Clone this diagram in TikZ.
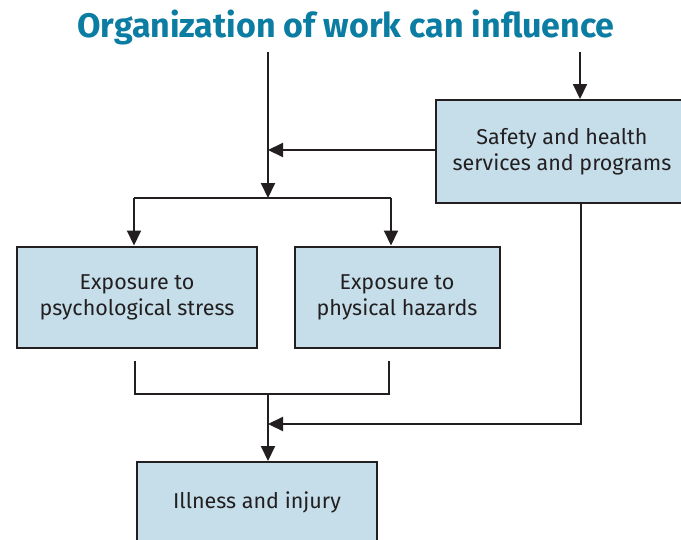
\documentclass[tikz,border=0pt]{standalone}
\usepackage{fontspec}
\setmainfont{Fira Sans}
\usetikzlibrary{arrows.meta}
\definecolor{boxfill}{HTML}{C5DEEA}
\definecolor{ink}{HTML}{231F20}
\definecolor{titleblue}{HTML}{0B7DA3}
\begin{document}
\begin{tikzpicture}[x=1pt,y=-1pt,
  box/.style={draw=ink,line width=2pt,fill=boxfill,align=center,text=ink,
    font=\fontsize{21.5}{26}\selectfont,inner sep=0pt},
  conn/.style={draw=ink,line width=2pt},
  arr/.style={conn,-{Triangle[width=14pt,length=15pt]}}]
\useasboundingbox (0,0) rectangle (681,539);
\node[font=\fontsize{34}{38}\bfseries\selectfont,text=titleblue] (title) at (346,27) {Organization of work can influence};
\node[box,minimum width=252pt,minimum height=103pt] (safety) at (562,151.5) {Safety and health\\services and programs};
\node[box,minimum width=240pt,minimum height=101pt] (psych) at (137,297) {Exposure to\\psychological stress};
\node[box,minimum width=205pt,minimum height=101pt] (phys) at (397,297) {Exposure to\\physical hazards};
\node[box,minimum width=240pt,minimum height=80pt] (ill) at (257,502) {Illness and injury};
\coordinate (a) at (268,52);
\coordinate (b) at (580,52);
\coordinate (j1) at (268,198);
\coordinate (jl) at (134,198);
\coordinate (jr) at (391,198);
\coordinate (m) at (268,150);
\coordinate (pl) at (135,361);
\coordinate (pr) at (389,361);
\coordinate (j2) at (268,394);
\coordinate (j3) at (268,424);
\draw[arr] (a) -- (j1);
\draw[arr] (b) -- (b |- safety.north);
\draw[arr] (safety.west |- m) -- (m);
\draw[conn] (jl) -- (jr);
\draw[arr] (jl) -- (jl |- psych.north);
\draw[arr] (jr) -- (jr |- phys.north);
\draw[conn] (pl) |- (j2) -| (pr);
\draw[arr] (j2) -- (j2 |- ill.north);
\draw[arr] (safety.south -| 581,0) |- (j3);
\end{tikzpicture}
\end{document}
